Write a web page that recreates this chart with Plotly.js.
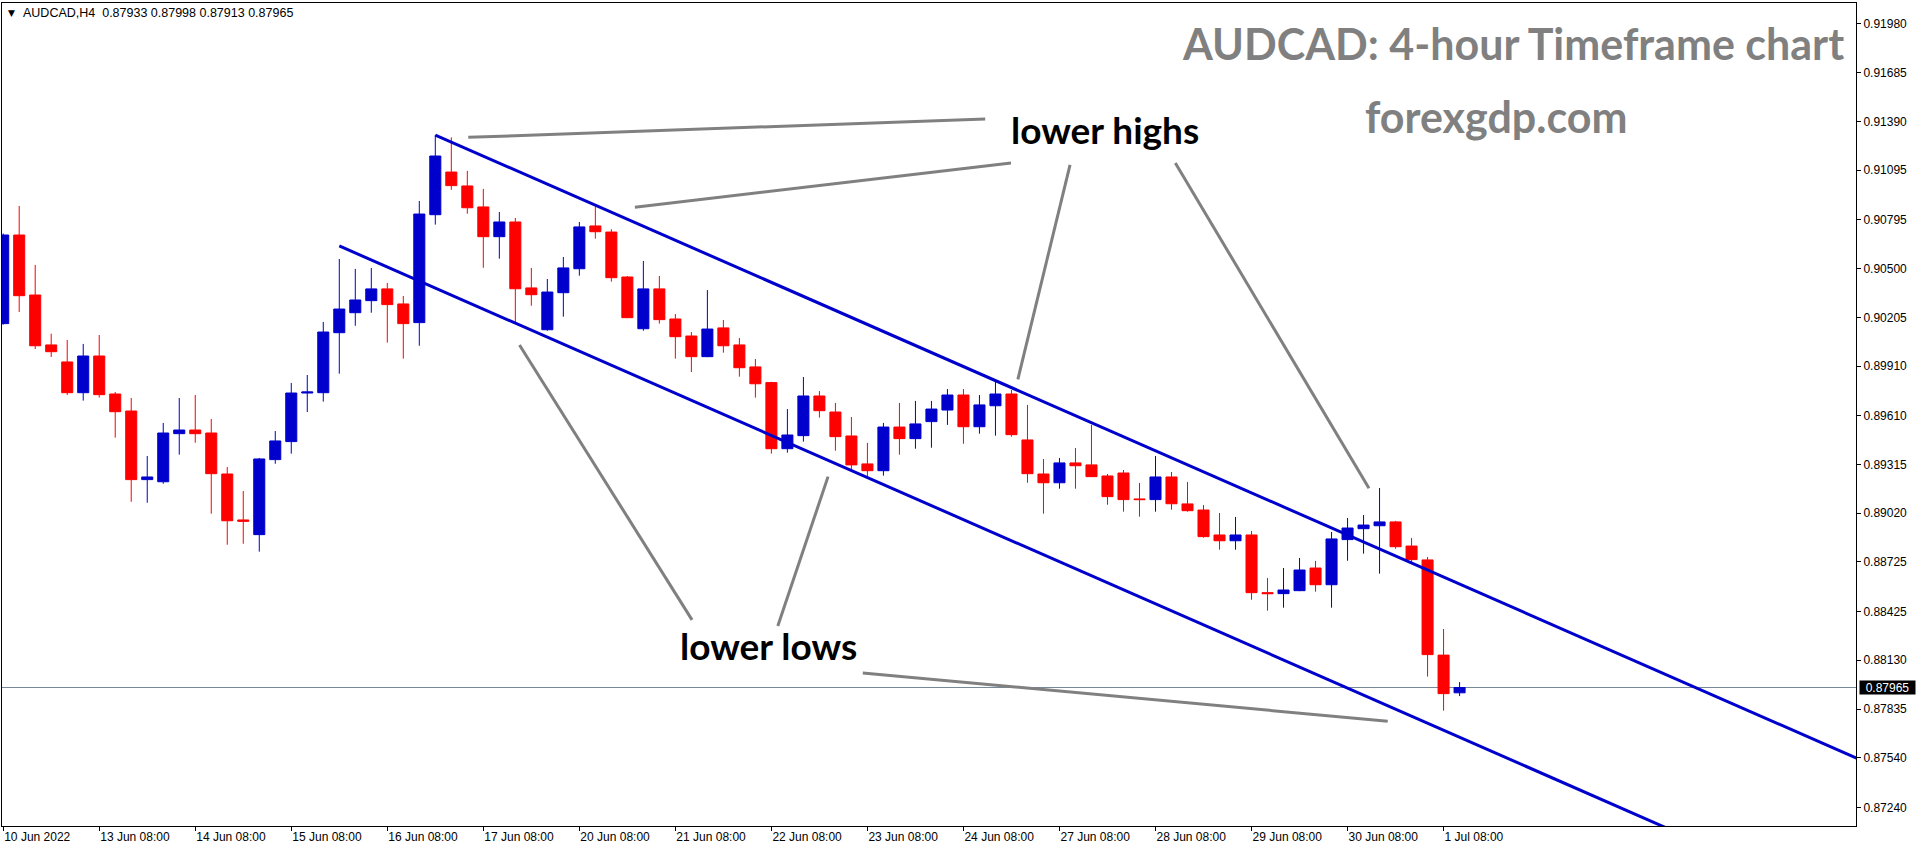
<!DOCTYPE html>
<html><head><meta charset="utf-8">
<script src="https://cdn.plot.ly/plotly-3.0.1.min.js"></script>
<style>html,body{margin:0;padding:0;background:#fff;overflow:hidden}#chart{width:1916px;height:850px}</style>
</head><body><div id="chart"></div>
<script>
const symbolTf = 'AUDCAD,H4';
const titleText = 'AUDCAD: 4-hour Timeframe chart';
const siteText = 'forexgdp.com';
const highsText = 'lower highs';
const lowsText = 'lower lows';

const openP = [0.90167,0.90703,0.90340,0.90038,0.89935,0.89749,0.89971,0.89741,0.89638,0.89223,
0.89210,0.89501,0.89523,0.89505,0.89257,0.88979,0.88890,0.89344,0.89453,0.89747,
0.89749,0.90112,0.90233,0.90306,0.90377,0.90286,0.90173,0.90826,0.91084,0.91000,
0.90873,0.90693,0.90782,0.90383,0.90130,0.90354,0.90499,0.90758,0.90721,0.90449,
0.90136,0.90377,0.90195,0.90092,0.89967,0.90141,0.90038,0.89905,0.89810,0.89410,
0.89489,0.89729,0.89632,0.89487,0.89318,0.89277,0.89541,0.89471,0.89574,0.89644,
0.89735,0.89543,0.89670,0.89741,0.89463,0.89257,0.89204,0.89324,0.89312,0.89245,
0.89263,0.89106,0.89102,0.89239,0.89076,0.89039,0.88888,0.88853,0.88888,0.88539,
0.88533,0.88551,0.88688,0.88587,0.88860,0.88926,0.88944,0.88967,0.88821,0.88737,
0.88161,0.87933];
const highP = [0.90712,0.90879,0.90522,0.90106,0.90068,0.90044,0.90098,0.89753,0.89717,0.89366,
0.89566,0.89717,0.89735,0.89590,0.89299,0.89154,0.89354,0.89517,0.89808,0.89856,
0.90177,0.90558,0.90498,0.90504,0.90413,0.90334,0.90909,0.91308,0.91294,0.91091,
0.90982,0.90842,0.90806,0.90504,0.90437,0.90570,0.90782,0.90874,0.90738,0.90455,
0.90546,0.90455,0.90225,0.90116,0.90370,0.90189,0.90080,0.89953,0.89815,0.89650,
0.89844,0.89759,0.89687,0.89602,0.89445,0.89566,0.89687,0.89699,0.89699,0.89771,
0.89771,0.89735,0.89820,0.89765,0.89675,0.89348,0.89354,0.89414,0.89554,0.89257,
0.89281,0.89203,0.89366,0.89269,0.89209,0.89069,0.89021,0.88997,0.88912,0.88628,
0.88688,0.88749,0.88731,0.88906,0.88991,0.89009,0.89172,0.88973,0.88870,0.88755,
0.88319,0.87998];
const lowP = [0.90160,0.90237,0.90013,0.89965,0.89735,0.89701,0.89719,0.89477,0.89089,0.89083,
0.89198,0.89374,0.89446,0.89017,0.88829,0.88835,0.88787,0.89319,0.89380,0.89632,
0.89695,0.89864,0.90154,0.90233,0.90052,0.89955,0.90033,0.90766,0.90977,0.90832,
0.90505,0.90560,0.90169,0.90275,0.90124,0.90209,0.90457,0.90681,0.90421,0.90200,
0.90124,0.90167,0.89955,0.89874,0.89964,0.89991,0.89846,0.89719,0.89380,0.89386,
0.89453,0.89598,0.89398,0.89281,0.89241,0.89247,0.89374,0.89410,0.89416,0.89554,
0.89440,0.89501,0.89489,0.89483,0.89204,0.89017,0.89168,0.89168,0.89238,0.89071,
0.89029,0.88999,0.89029,0.89041,0.89029,0.88872,0.88799,0.88799,0.88496,0.88430,
0.88448,0.88548,0.88545,0.88448,0.88732,0.88775,0.88654,0.88805,0.88721,0.88031,
0.87825,0.87913];
const closeP = [0.90703,0.90336,0.90033,0.89997,0.89749,0.89971,0.89737,0.89634,0.89223,0.89239,
0.89505,0.89523,0.89501,0.89259,0.88974,0.88971,0.89348,0.89457,0.89747,0.89753,
0.90116,0.90255,0.90310,0.90377,0.90282,0.90167,0.90830,0.91181,0.91002,0.90868,
0.90693,0.90782,0.90378,0.90342,0.90358,0.90504,0.90752,0.90723,0.90445,0.90203,
0.90377,0.90191,0.90088,0.89967,0.90134,0.90033,0.89900,0.89803,0.89410,0.89493,
0.89729,0.89640,0.89483,0.89312,0.89277,0.89541,0.89471,0.89560,0.89650,0.89735,
0.89543,0.89675,0.89741,0.89495,0.89259,0.89204,0.89324,0.89307,0.89241,0.89120,
0.89102,0.89102,0.89239,0.89077,0.89035,0.88878,0.88853,0.88888,0.88539,0.88533,
0.88555,0.88676,0.88587,0.88864,0.88930,0.88948,0.88967,0.88817,0.88739,0.88164,
0.87928,0.87965];

const timeTickIdx = [0,6,12,18,24,30,36,42,48,54,60,66,72,78,84,90];
const timeTickLabels = ['10 Jun 2022','13 Jun 08:00','14 Jun 08:00','15 Jun 08:00','16 Jun 08:00','17 Jun 08:00','20 Jun 08:00','21 Jun 08:00','22 Jun 08:00','23 Jun 08:00','24 Jun 08:00','27 Jun 08:00','28 Jun 08:00','29 Jun 08:00','30 Jun 08:00','1 Jul 08:00'];
const priceTicks = [0.91980,0.91685,0.91390,0.91095,0.90795,0.90500,0.90205,0.89910,0.89610,0.89315,0.89020,0.88725,0.88425,0.88130,0.87835,0.87540,0.87240];

const upperChannelX = [27, 115.8];
const upperChannelY = [0.91308, 0.87538];
const lowerChannelX = [21, 104];
const lowerChannelY = [0.90637, 0.87112];

const highPointersX = [[29.06,61.36],[39.47,62.97],[66.66,63.40],[73.24,85.34]];
const highPointersY = [[0.91294,0.91405],[0.90871,0.91139],[0.91127,0.89830],[0.91139,0.89171]];
const lowPointersX = [[32.26,43.04],[51.54,48.40],[53.71,86.51]];
const lowPointersY = [[0.90038,0.88374],[0.89241,0.88337],[0.88053,0.87761]];

const barIdx = openP.map((_, i) => i);
const last = openP.length - 1;
const fmt = v => v.toFixed(5);

function segTrace(xs, ys, color, width) {
  const x = [], y = [];
  xs.forEach((s, k) => { x.push(s[0], s[1], null); y.push(ys[k][0], ys[k][1], null); });
  return {type:'scatter', mode:'lines', x, y, line:{color, width}, hoverinfo:'skip', showlegend:false};
}

const data = [
  {type:'candlestick', x: barIdx, open: openP, high: highP, low: lowP, close: closeP,
   increasing:{line:{color:'#0000CC', width:1}, fillcolor:'#0000CC'},
   decreasing:{line:{color:'#FF0000', width:1}, fillcolor:'#FF0000'},
   whiskerwidth:0, hoverinfo:'skip', showlegend:false},
  {type:'scatter', mode:'lines', x: upperChannelX, y: upperChannelY, line:{color:'#0000CC', width:3}, hoverinfo:'skip', showlegend:false},
  {type:'scatter', mode:'lines', x: lowerChannelX, y: lowerChannelY, line:{color:'#0000CC', width:3}, hoverinfo:'skip', showlegend:false},
  segTrace(highPointersX, highPointersY, '#808080', 3),
  segTrace(lowPointersX, lowPointersY, '#808080', 3)
];

const tickFont = {family:'Liberation Sans, Arial, sans-serif', size:12, color:'#000'};
const bigFont = (size, color) => ({family:'Lato, sans-serif', size, color, weight:700});

const layout = {
  width:1916, height:850,
  margin:{l:2, r:60, t:3, b:24, pad:0},
  paper_bgcolor:'#fff', plot_bgcolor:'#fff',
  showlegend:false, hovermode:false, dragmode:false,
  boxgap:0.31, boxgroupgap:0,
  xaxis:{range:[-0.075, 115.77], type:'linear', tickvals: timeTickIdx, ticktext: timeTickLabels,
    ticks:'outside', ticklen:4, tickcolor:'#000', tickwidth:1,
    ticklabelposition:'outside right',
    showline:true, mirror:true, linecolor:'#000', linewidth:1,
    showgrid:false, zeroline:false, tickfont: tickFont, rangeslider:{visible:false}, fixedrange:true},
  yaxis:{range:[0.87127, 0.92107], side:'right', tickvals: priceTicks, ticktext: priceTicks.map(fmt),
    ticks:'outside', ticklen:4, tickcolor:'#000', tickwidth:1,
    showline:true, mirror:true, linecolor:'#000', linewidth:1,
    showgrid:false, zeroline:false, tickfont: tickFont, fixedrange:true},
  shapes:[
    {type:'line', layer:'below', xref:'paper', x0:0, x1:1, yref:'y', y0: closeP[last], y1: closeP[last],
     line:{color:'#778899', width:1}}
  ],
  annotations:[
    {text: titleText, xref:'x', yref:'y', x:94.36, y:0.91863, showarrow:false, xanchor:'center', yanchor:'middle', font: bigFont(43,'#808080')},
    {text: siteText, xref:'x', yref:'y', x:93.29, y:0.91423, showarrow:false, xanchor:'center', yanchor:'middle', font: bigFont(43,'#808080')},
    {text: highsText, xref:'x', yref:'y', x:68.84, y:0.91339, showarrow:false, xanchor:'center', yanchor:'middle', font: bigFont(37,'#000')},
    {text: lowsText, xref:'x', yref:'y', x:47.84, y:0.88222, showarrow:false, xanchor:'center', yanchor:'middle', font: bigFont(37,'#000')},
    {text:'▼', xref:'paper', yref:'paper', x:0, y:1, xshift:4, yshift:-10, xanchor:'left', yanchor:'middle', showarrow:false,
     font:{family:'DejaVu Sans', size:9, color:'#000'}},
    {text: symbolTf + '  ' + [openP[last], highP[last], lowP[last], closeP[last]].map(fmt).join(' '),
     xref:'paper', yref:'paper', x:0, y:1, xshift:19, yshift:-10, xanchor:'left', yanchor:'middle', showarrow:false,
     font:{family:'Liberation Sans, Arial, sans-serif', size:12.5, color:'#000'}},
    {text: fmt(closeP[last]), xref:'paper', yref:'y', x:1, y: closeP[last], xshift:3, xanchor:'left', yanchor:'middle',
     showarrow:false, bgcolor:'#000', borderpad:0, width:55, height:13,
     font:{family:'Liberation Sans, Arial, sans-serif', size:12, color:'#fff'}}
  ]
};

Plotly.newPlot('chart', data, layout, {staticPlot:true, displayModeBar:false});
</script>
</body></html>
